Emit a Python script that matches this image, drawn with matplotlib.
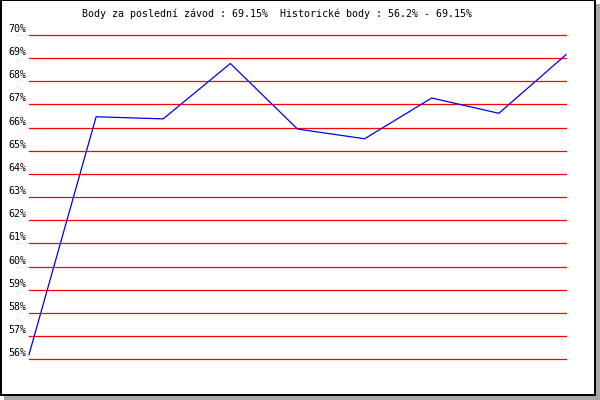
import matplotlib
matplotlib.use("Agg")
import matplotlib.pyplot as plt
from matplotlib.patches import Rectangle
from matplotlib.transforms import ScaledTranslation

# Results over the races (percent of points)
races = list(range(9))
points = [56.2, 66.47, 66.38, 68.77, 65.94, 65.52, 67.28, 66.62, 69.15]
tick_values = list(range(56, 71))
tick_labels = [f"{v}%" for v in tick_values]
title = "Body za poslední závod : 69.15%  Historické body : 56.2% - 69.15%"

W, H = 600, 400
fig = plt.figure(figsize=(W / 100, H / 100), dpi=100)
fig.patch.set_facecolor("white")

def px_rect(x0, y0, x1, y1, **kw):
    # rectangle given in pixel coordinates measured from the top-left corner
    fig.add_artist(Rectangle((x0 / W, 1 - y1 / H), (x1 - x0) / W, (y1 - y0) / H,
                             transform=fig.transFigure, **kw))

# drop shadow and black frame
grey = "#a8a8a8"
px_rect(596, 4, 600, 400, facecolor=grey, edgecolor="none", zorder=0)
px_rect(4, 395.5, 600, 400, facecolor=grey, edgecolor="none", zorder=0)
for box in [(0, 0, 2, 395.5), (0, 0, 596, 1), (594, 0, 596, 395.5), (0, 393.5, 596, 395.5)]:
    px_rect(*box, facecolor="black", edgecolor="none", zorder=1)

# plot area
left, right, top, bottom = 29, 566, 35, 359.3
ax = fig.add_axes([left / W, 1 - bottom / H, (right - left) / W, (bottom - top) / H])
ax.set_xlim(races[0], races[-1])
ax.set_ylim(tick_values[0], tick_values[-1])
ax.set_axis_off()
ax.patch.set_alpha(0)

for v in tick_values:
    ax.axhline(v, color="red", lw=0.9, clip_on=False, zorder=1)

ax.plot(races, points, color="#0000ee", lw=0.9, clip_on=False, zorder=2)

mono = "DejaVu Sans Mono"
off = ScaledTranslation(-3 / 100, 6 / 100, fig.dpi_scale_trans)
for v, lab in zip(tick_values, tick_labels):
    ax.text(0, v, lab, transform=ax.get_yaxis_transform() + off,
            ha="right", va="center", fontsize=7.2, family=mono, color="black")

fig.text(82 / W, 1 - 14 / H, title, ha="left", va="center",
         fontsize=7.2, family=mono, color="black")

fig.savefig("out.png", dpi=100)
